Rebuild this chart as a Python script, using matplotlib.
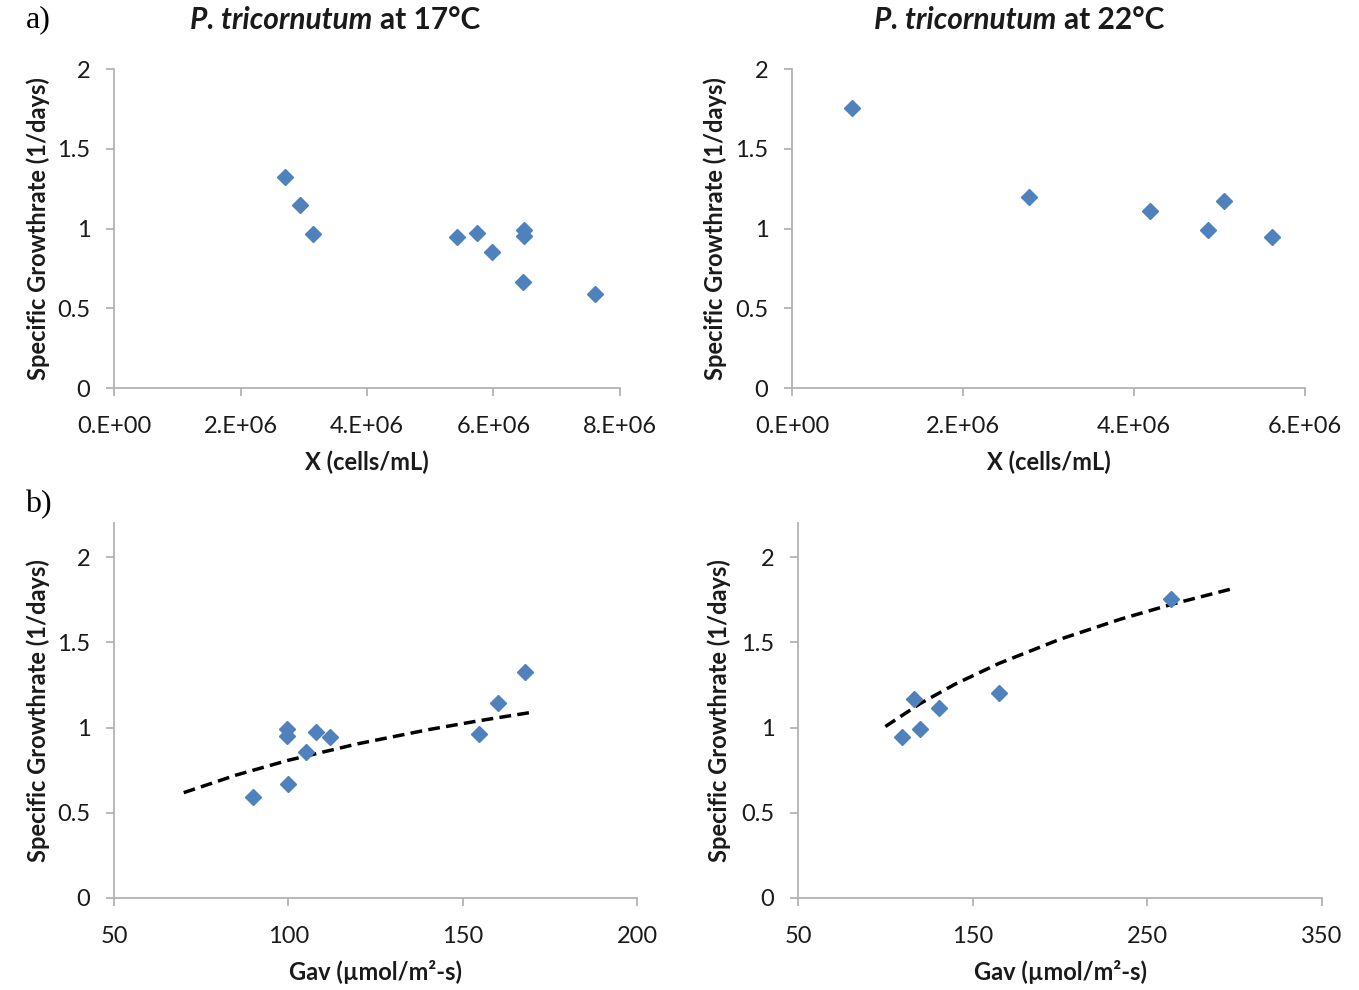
import matplotlib
matplotlib.use('Agg')
import matplotlib.pyplot as plt
from matplotlib.ticker import FuncFormatter
import numpy as np

plt.rcParams['font.family'] = ['Lato', 'DejaVu Sans']

# 17 C culture
x17 = [2.70e6, 2.94e6, 3.14e6, 5.43e6, 5.74e6, 5.97e6, 6.49e6, 6.49e6, 6.47e6, 7.61e6]
mu17 = [1.324, 1.146, 0.964, 0.944, 0.972, 0.854, 0.992, 0.950, 0.666, 0.590]
gav17 = [168.0, 160.2, 154.8, 112.0, 107.8, 105.2, 99.6, 99.6, 100.0, 89.8]

# 22 C culture
x22 = [0.70e6, 2.77e6, 4.19e6, 4.86e6, 5.05e6, 5.61e6]
mu22 = [1.755, 1.200, 1.112, 0.993, 1.170, 0.946]
gav22 = [263.6, 165.0, 131.0, 119.7, 116.4, 109.3]

# dashed model curves
fit17_gav = [70, 85, 100, 120, 140, 155, 170]
fit17_mu = [0.618, 0.721, 0.808, 0.905, 0.987, 1.041, 1.090]
fit22_gav = [100, 120, 140, 165, 200, 235, 265, 300]
fit22_mu = [1.006, 1.141, 1.255, 1.376, 1.518, 1.637, 1.726, 1.818]

W, H = 1359, 990
BLUE = '#4F81BD'
AXC = '#B3B3B3'
TXT = '#1a1a1a'
FS = 17


def px_axes(x0, x1, y_top, y_bot):
    return fig.add_axes([x0 / W, 1 - y_bot / H, (x1 - x0) / W, (y_bot - y_top) / H])


def sci(v, pos):
    if v == 0:
        return '0.E+00'
    e = int(np.floor(np.log10(abs(v))))
    return '%d.E+%02d' % (round(v / 10**e), e)


def style(ax, xmin, xmax, xstep, ymax, xlabel, ylab_x, xlab_y, fmt=None):
    for s in ['top', 'right']:
        ax.spines[s].set_visible(False)
    for s in ['left', 'bottom']:
        ax.spines[s].set_color(AXC)
        ax.spines[s].set_linewidth(1.3)
    ax.set_xlim(xmin, xmax)
    ax.set_ylim(0, ymax)
    ax.set_xticks(np.arange(xmin, xmax + xstep / 2, xstep))
    ax.set_yticks([0, 0.5, 1, 1.5, 2])
    ax.yaxis.set_major_formatter(FuncFormatter(lambda v, p: '%g' % v))
    if fmt:
        ax.xaxis.set_major_formatter(FuncFormatter(fmt))
    ax.tick_params(axis='x', length=6, width=1.3, color=AXC, pad=14,
                   labelsize=FS, labelcolor=TXT)
    ax.tick_params(axis='y', length=6, width=1.3, color=AXC, pad=11,
                   labelsize=FS, labelcolor=TXT)
    ax.set_ylabel('Specific Growthrate (1/days)', fontsize=FS,
                  fontweight='bold', color=TXT)
    ax.set_xlabel(xlabel, fontsize=FS, fontweight='bold', color=TXT)
    ax.yaxis.set_label_coords(ylab_x, 0.5)
    ax.xaxis.set_label_coords(0.5, xlab_y)
    ax.patch.set_alpha(0)


fig = plt.figure(figsize=(W / 100, H / 100), dpi=100)

ax1 = px_axes(114, 620, 69, 388)
ax1.plot(x17, mu17, 'D', color=BLUE, ms=8.5, mec=BLUE)
style(ax1, 0, 8e6, 2e6, 2, 'X (cells/mL)', -0.126, -0.197, sci)

ax2 = px_axes(792, 1305, 69, 388)
ax2.plot(x22, mu22, 'D', color=BLUE, ms=8.5, mec=BLUE)
style(ax2, 0, 6e6, 2e6, 2, 'X (cells/mL)', -0.127, -0.197, sci)

ax3 = px_axes(114, 637, 523, 898)
ax3.plot(fit17_gav, fit17_mu, '--', color='black', lw=2.5, dashes=(3.4, 1.8))
ax3.plot(gav17, mu17, 'D', color=BLUE, ms=8.5, mec=BLUE)
style(ax3, 50, 200, 50, 2.2, 'Gav (µmol/m²-s)', -0.122, -0.165)

ax4 = px_axes(798, 1322, 523, 898)
ax4.plot(fit22_gav, fit22_mu, '--', color='black', lw=2.5, dashes=(3.4, 1.8))
ax4.plot(gav22, mu22, 'D', color=BLUE, ms=8.5, mec=BLUE)
style(ax4, 50, 350, 100, 2.2, 'Gav (µmol/m²-s)', -0.128, -0.165)

# panel titles: italic species name + plain temperature
for xs, temp in [(372, '17°C'), (1056, '22°C')]:
    fig.text(xs / W, 1 - 20 / H, 'P. tricornutum', ha='right', va='center',
             fontsize=21.5, fontweight='bold', fontstyle='italic', color=TXT)
    fig.text((xs + 8) / W, 1 - 20 / H, 'at ' + temp, ha='left', va='center',
             fontsize=21.5, fontweight='bold', color=TXT)

fig.text(38 / W, 1 - 20 / H, 'a)', ha='center', va='center', fontsize=23,
         family='Liberation Serif', color='black')
fig.text(38 / W, 1 - 505 / H, 'b)', ha='center', va='center', fontsize=23,
         family='Liberation Serif', color='black')

fig.savefig('out.png', dpi=100, facecolor='white')
